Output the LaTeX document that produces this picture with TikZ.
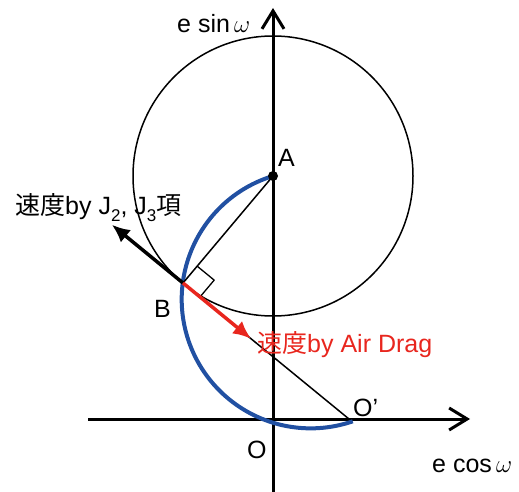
\documentclass[tikz,border=0pt]{standalone}
\usepackage{fontspec}
\usepackage{tikz}
\usetikzlibrary{arrows.meta,calc}
\setmainfont{Liberation Sans}
\newfontfamily\jpfont{Noto Sans CJK JP}
\definecolor{orbblue}{HTML}{2150A2}
\definecolor{dragred}{HTML}{E8261E}
\newcommand{\lowsub}[1]{\raisebox{-7pt}{\fontsize{17}{17}\selectfont #1}}

\begin{document}
\begin{tikzpicture}[x=1pt, y=-1pt, line join=round,
    lbl/.style={font=\fontsize{25}{30}\selectfont, inner sep=0pt},
    axis/.style={line width=3pt, -{Straight Barb[length=18pt,width=22pt]}},
    thinline/.style={line width=1.5pt},
    vel/.style={line width=3.5pt, -{Latex[length=18pt,width=16pt]}}]
  \useasboundingbox (0,0) rectangle (519,492);
  % points
  \coordinate (A) at (273,176);
  \coordinate (B) at (183,283);
  \coordinate (Op) at (349,419);
  \coordinate (xs) at (88,419);
  \coordinate (xe) at (470,419);
  \coordinate (ys) at (273,492);
  \coordinate (ye) at (273,8);
  % axes
  \draw[axis] (xs) -- (xe);
  \draw[axis] (ys) -- (ye);
  % circle round A
  \draw[thinline] (A) circle (140);
  % orbit path
  \draw[orbblue, line width=4pt] (A) arc[start angle=-107, end angle=-289, radius=129];
  % radius and tangent
  \draw[thinline] (A) -- (B);
  \draw[thinline] (B) -- (Op);
  \coordinate (ra) at ($(B)!22pt!(A)$);
  \coordinate (rb) at ($(B)!22pt!(Op)$);
  \draw[line width=1.3pt] (ra) -- ($(ra)+(rb)-(B)$) -- (rb);
  \fill (A) circle (5);
  % velocities
  \coordinate (vj) at ($(B)!-92pt!(Op)$);
  \coordinate (vd) at ($(B)!88pt!(Op)$);
  \draw[vel] (B) -- (vj);
  \draw[vel, dragred] (B) -- (vd);
  % labels
  \node[lbl, anchor=base west] (lA) at (278,166) {A};
  \node[lbl, anchor=base west] (lB) at (154,317) {B};
  \node[lbl, anchor=base west] (lO) at (247,458) {O};
  \node[lbl, anchor=base west] (lOp) at (353,416) {O’};
  \node[lbl, anchor=base west] (ly) at (177,33) {e sin\,$\omega$};
  \node[lbl, anchor=base west] (lx) at (432,472) {e cos\,$\omega$};
  \node[lbl, anchor=base west] (lj) at (15,214) {{\jpfont 速度}by J\lowsub{2}, J\lowsub{3}{\jpfont 項}};
  \node[lbl, anchor=base west, dragred] (ld) at (257,352) {{\jpfont 速度}by Air Drag};
\end{tikzpicture}
\end{document}
